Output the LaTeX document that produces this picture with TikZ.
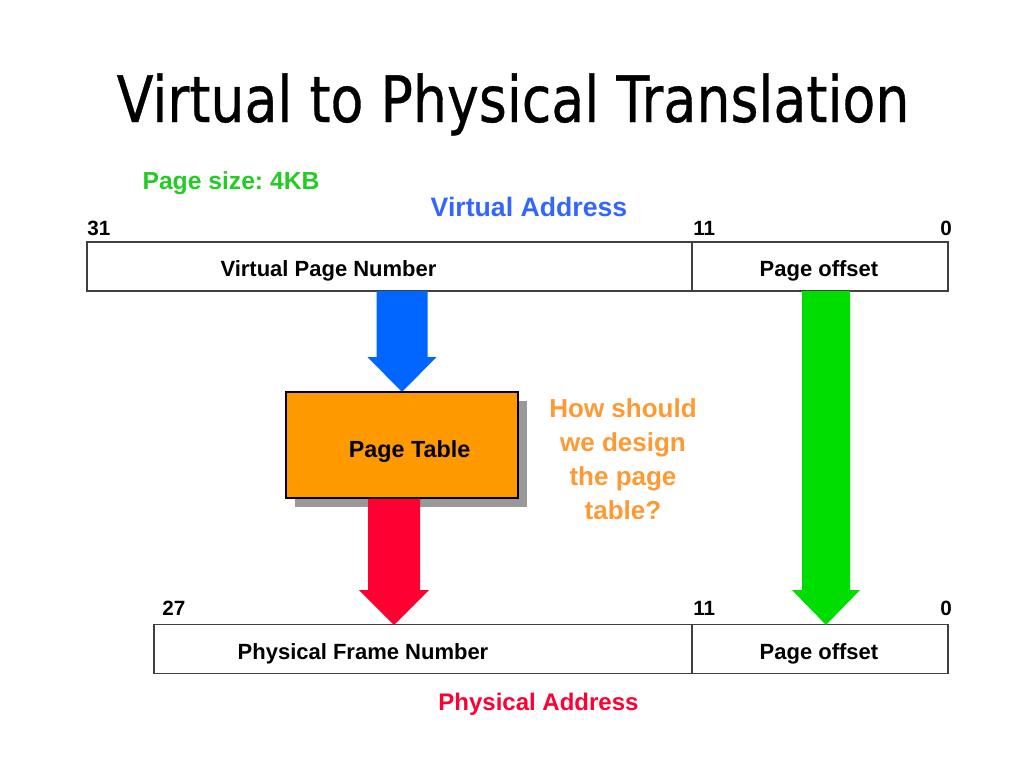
\documentclass[tikz,border=0pt]{standalone}
\usepackage{fontspec}
\usepackage{graphicx}
\setmainfont{Liberation Sans}
\newfontfamily\titlefont[FakeBold=0.6]{DejaVu Sans}
\usetikzlibrary{calc}
\frenchspacing
\definecolor{boxline}{HTML}{404040}
\definecolor{vblue}{HTML}{0066FF}
\definecolor{vbluetext}{HTML}{3366FF}
\definecolor{pgreen}{HTML}{22CC22}
\definecolor{agreen}{HTML}{00DD00}
\definecolor{ptorange}{HTML}{FF9900}
\definecolor{qorange}{HTML}{FF9933}
\definecolor{ared}{HTML}{FF0033}
\definecolor{shadowgray}{HTML}{999999}
\newcommand{\blockarrow}[6]{% color, start, tip, shaft half, head half, head length
  \fill[#1] ($(#2)+(-#4,0)$) -- ($(#3)+(-#4,-#6)$) -- ($(#3)+(-#5,-#6)$) -- (#3)
    -- ($(#3)+(#5,-#6)$) -- ($(#3)+(#4,-#6)$) -- ($(#2)+(#4,0)$) -- cycle;}
\begin{document}
\begin{tikzpicture}[x=0.75pt,y=-0.75pt,
  field/.style={draw=boxline, line width=1.1pt, fill=white, inner sep=0pt, minimum height={49*0.75pt}},
  lbl/.style={font=\bfseries\fontsize{16.5}{19}\selectfont, anchor=base, inner sep=0pt},
  bitnum/.style={font=\bfseries\fontsize{15.5}{18}\selectfont, inner sep=0pt}]
\useasboundingbox (0,0) rectangle (1024,768);
% title
\node[anchor=base, inner sep=0pt, font=\titlefont\fontsize{48}{58}\selectfont] (title) at (513,122)
  {\scalebox{0.84}[1]{Virtual to Physical Translation}};
% top labels
\node[anchor=base, inner sep=0pt, text=pgreen, font=\bfseries\fontsize{18.5}{22}\selectfont] (psize) at (231,189) {Page size: 4KB};
\node[anchor=base, inner sep=0pt, text=vbluetext, font=\bfseries\fontsize{20}{24}\selectfont] (vaddr) at (529,216) {Virtual Address};
\node[bitnum, anchor=base west] (n31) at (87,235) {31};
\node[bitnum, anchor=base west] (n11a) at (693,235) {11};
\node[bitnum, anchor=base east] (n0a) at (952,235) {0};
% virtual address fields
\node[field, minimum width={605*0.75pt}] (vpn) at (389.5,266.5) {};
\node[field, minimum width={256*0.75pt}] (vpo) at (820,266.5) {};
\node[lbl] (vpnt) at (328.5,276) {Virtual Page Number};
\node[lbl] (vpot) at (819,276) {Page offset};
% physical address fields
\node[bitnum, anchor=base west] (n27) at (162,615) {27};
\node[bitnum, anchor=base west] (n11b) at (693,615) {11};
\node[bitnum, anchor=base east] (n0b) at (952,615) {0};
\node[field, minimum width={538*0.75pt}] (pfn) at (423,649) {};
\node[field, minimum width={256*0.75pt}] (ppo) at (820,649) {};
\node[lbl] (pfnt) at (363,659) {Physical Frame Number};
\node[lbl] (ppot) at (819,659) {Page offset};
\node[anchor=base, inner sep=0pt, text=ared, font=\bfseries\fontsize{18}{22}\selectfont] (paddr) at (538.5,710) {Physical Address};
% page table shadow
\node[fill=shadowgray, inner sep=0pt, minimum width={232*0.75pt}, minimum height={106*0.75pt}] (ptshadow) at (411,454) {};
% arrows
\coordinate (bstart) at (402,291);
\coordinate (btip) at (402,392);
\coordinate (rstart) at (394,498);
\coordinate (rtip) at (394,625);
\coordinate (gstart) at (826,291);
\coordinate (gtip) at (826,625);
\blockarrow{vblue}{bstart}{btip}{25.5}{34.5}{35}
\blockarrow{ared}{rstart}{rtip}{26}{35}{35}
\blockarrow{agreen}{gstart}{gtip}{24}{34}{35}
% page table
\node[draw=black, line width=1.4pt, fill=ptorange, inner sep=0pt, minimum width={232*0.75pt}, minimum height={106*0.75pt}] (ptab) at (402,445) {};
\node[anchor=base, inner sep=0pt, font=\bfseries\fontsize{17.5}{21}\selectfont] (ptabt) at (409.5,457) {Page Table};
% question
\node[anchor=base, inner sep=0pt, align=center, text=qorange, font=\bfseries\fontsize{19.5}{25.3}\selectfont] (quest) at (623,519)
  {How should\\we design\\the page\\table?};
\end{tikzpicture}
\end{document}
